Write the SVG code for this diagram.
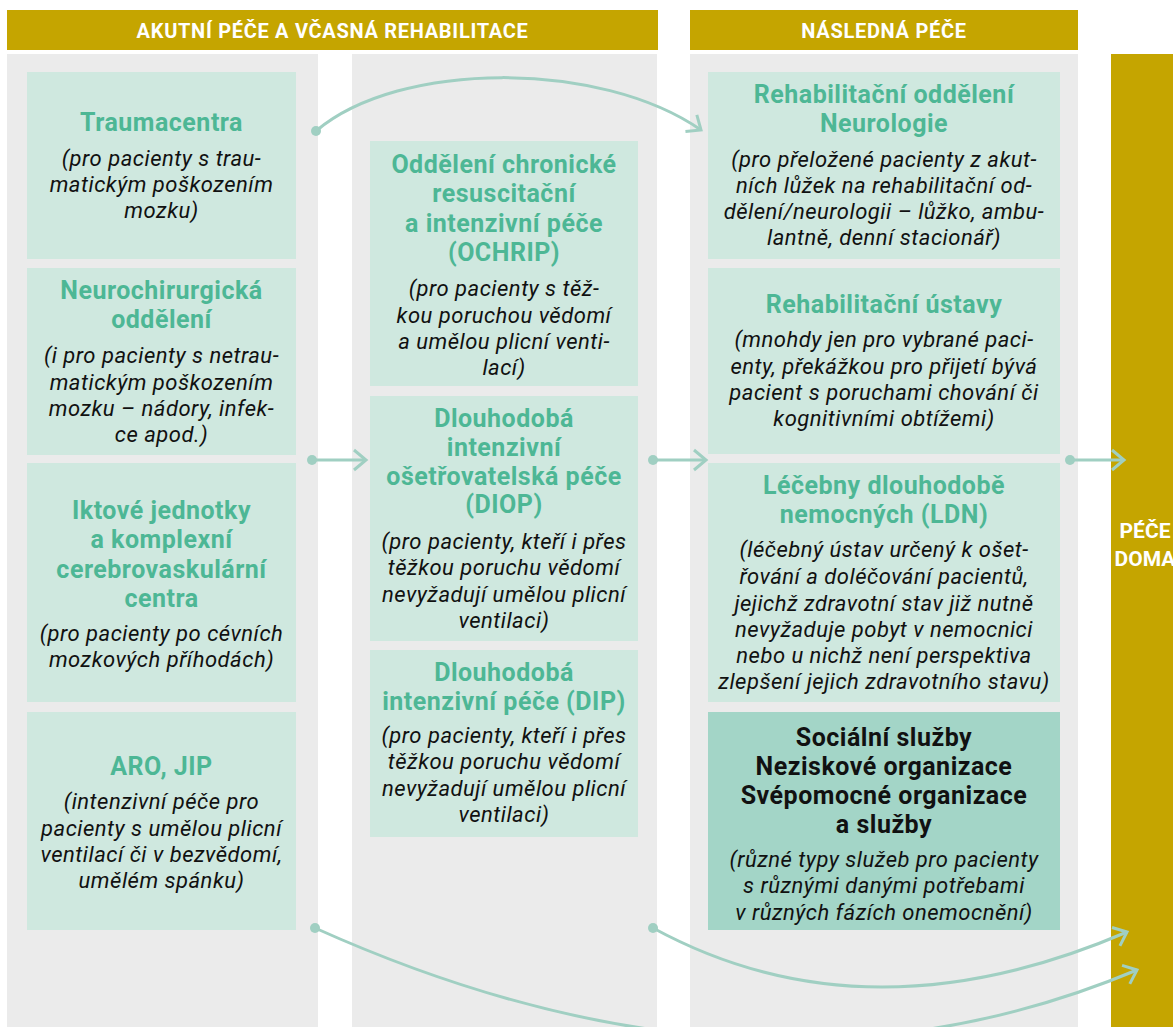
<svg xmlns="http://www.w3.org/2000/svg" width="1173" height="1027" viewBox="0 0 1173 1027">
<style>
.bg{fill:#ffffff}
.col{fill:#ebebeb}
.gold{fill:#c5a500}
.box{fill:#cfe8df}
.box2{fill:#a3d5c7}
.hdr{font-family:Roboto,"Liberation Sans",sans-serif;font-weight:700;font-size:20px;fill:#ffffff;text-anchor:middle;letter-spacing:0.7px}
.t{font-family:Roboto,"Liberation Sans",sans-serif;font-weight:700;font-size:25px;fill:#4db795;text-anchor:middle;letter-spacing:0.5px}
.tb{font-family:Roboto,"Liberation Sans",sans-serif;font-weight:700;font-size:25px;fill:#111111;text-anchor:middle;letter-spacing:0.5px}
.i{font-family:Roboto,"Liberation Sans",sans-serif;font-style:italic;font-size:22px;fill:#111111;text-anchor:middle;letter-spacing:0.5px}
.con{fill:none;stroke:#a0cfc2;stroke-width:3}
.dot{fill:#a0cfc2}
</style>
<defs>
<marker id="arr" markerUnits="userSpaceOnUse" viewBox="-14 -12 16 24" refX="0" refY="0" markerWidth="16" markerHeight="24" orient="auto" overflow="visible">
<path d="M-12,-10 L0,0 L-12,10" fill="none" stroke="#a0cfc2" stroke-width="3"/>
</marker>
</defs>
<rect class="bg" x="0" y="0" width="1173" height="1027"/>

<g id="header-acute">
<rect class="gold" x="7" y="10" width="651" height="40"/>
<text class="hdr" x="332.5" y="37.5">AKUTNÍ PÉČE A VČASNÁ REHABILITACE</text>
</g>
<g id="header-follow">
<rect class="gold" x="690" y="10" width="388" height="40"/>
<text class="hdr" x="884" y="37.5">NÁSLEDNÁ PÉČE</text>
</g>

<g id="columns">
<rect class="col" x="7" y="54" width="311" height="973"/>
<rect class="col" x="352" y="54" width="305" height="973"/>
<rect class="col" x="690" y="54" width="388" height="973"/>
</g>

<g id="home-care">
<rect class="gold" x="1111" y="54" width="62" height="973"/>
<text class="hdr" x="1145" y="538" style="font-size:21px;letter-spacing:0">PÉČE</text>
<text class="hdr" x="1145" y="566" style="font-size:21px;letter-spacing:0">DOMA</text>
</g>

<g id="traumacentra">
<rect class="box" x="27" y="72" width="269" height="187"/>
<text class="t" x="161.5" y="131">Traumacentra</text>
<text class="i" x="161.5" y="166">(pro pacienty s trau-</text>
<text class="i" x="161.5" y="192">matickým poškozením</text>
<text class="i" x="161.5" y="218">mozku)</text>
</g>

<g id="neurochirurgicka">
<rect class="box" x="27" y="268" width="269" height="187"/>
<text class="t" x="161.5" y="299">Neurochirurgická</text>
<text class="t" x="161.5" y="328">oddělení</text>
<text class="i" x="161.5" y="363">(i pro pacienty s netrau-</text>
<text class="i" x="161.5" y="390">matickým poškozením</text>
<text class="i" x="161.5" y="416">mozku – nádory, infek-</text>
<text class="i" x="161.5" y="442">ce apod.)</text>
</g>

<g id="iktove">
<rect class="box" x="27" y="463" width="269" height="239"/>
<text class="t" x="161.5" y="519">Iktové jednotky</text>
<text class="t" x="161.5" y="548">a komplexní</text>
<text class="t" x="161.5" y="578">cerebrovaskulární</text>
<text class="t" x="161.5" y="607">centra</text>
<text class="i" x="161.5" y="641">(pro pacienty po cévních</text>
<text class="i" x="161.5" y="667">mozkových příhodách)</text>
</g>

<g id="aro-jip">
<rect class="box" x="27" y="712" width="269" height="218"/>
<text class="t" x="161.5" y="775">ARO, JIP</text>
<text class="i" x="161.5" y="809">(intenzivní péče pro</text>
<text class="i" x="161.5" y="836">pacienty s umělou plicní</text>
<text class="i" x="161.5" y="862">ventilací či v bezvědomí,</text>
<text class="i" x="161.5" y="888">umělém spánku)</text>
</g>

<g id="ochrip">
<rect class="box" x="370" y="141" width="268" height="245"/>
<text class="t" x="504" y="173">Oddělení chronické</text>
<text class="t" x="504" y="202">resuscitační</text>
<text class="t" x="504" y="232">a intenzivní péče</text>
<text class="t" x="504" y="261">(OCHRIP)</text>
<text class="i" x="504" y="296">(pro pacienty s těž-</text>
<text class="i" x="504" y="323">kou poruchou vědomí</text>
<text class="i" x="504" y="349">a umělou plicní venti-</text>
<text class="i" x="504" y="375">lací)</text>
</g>

<g id="diop">
<rect class="box" x="370" y="396" width="268" height="245"/>
<text class="t" x="504" y="427">Dlouhodobá</text>
<text class="t" x="504" y="456">intenzivní</text>
<text class="t" x="504" y="485">ošetřovatelská péče</text>
<text class="t" x="504" y="513">(DIOP)</text>
<text class="i" x="504" y="549">(pro pacienty, kteří i přes</text>
<text class="i" x="504" y="575">těžkou poruchu vědomí</text>
<text class="i" x="504" y="602">nevyžadují umělou plicní</text>
<text class="i" x="504" y="628">ventilaci)</text>
</g>

<g id="dip">
<rect class="box" x="370" y="650" width="268" height="187"/>
<text class="t" x="504" y="681">Dlouhodobá</text>
<text class="t" x="504" y="710">intenzivní péče (DIP)</text>
<text class="i" x="504" y="743">(pro pacienty, kteří i přes</text>
<text class="i" x="504" y="769">těžkou poruchu vědomí</text>
<text class="i" x="504" y="796">nevyžadují umělou plicní</text>
<text class="i" x="504" y="822">ventilaci)</text>
</g>

<g id="rehab-neuro">
<rect class="box" x="708" y="72" width="352" height="187"/>
<text class="t" x="884" y="103">Rehabilitační oddělení</text>
<text class="t" x="884" y="132">Neurologie</text>
<text class="i" x="884" y="167">(pro přeložené pacienty z akut-</text>
<text class="i" x="884" y="193">ních lůžek na rehabilitační od-</text>
<text class="i" x="884" y="219">dělení/neurologii – lůžko, ambu-</text>
<text class="i" x="884" y="245">lantně, denní stacionář)</text>
</g>

<g id="rehab-ustavy">
<rect class="box" x="708" y="268" width="352" height="186"/>
<text class="t" x="884" y="313">Rehabilitační ústavy</text>
<text class="i" x="884" y="347">(mnohdy jen pro vybrané paci-</text>
<text class="i" x="884" y="374">enty, překážkou pro přijetí bývá</text>
<text class="i" x="884" y="400">pacient s poruchami chování či</text>
<text class="i" x="884" y="426">kognitivními obtížemi)</text>
</g>

<g id="ldn">
<rect class="box" x="708" y="463" width="352" height="239"/>
<text class="t" x="884" y="494">Léčebny dlouhodobě</text>
<text class="t" x="884" y="523">nemocných (LDN)</text>
<text class="i" x="884" y="557">(léčebný ústav určený k ošet-</text>
<text class="i" x="884" y="584">řování a doléčování pacientů,</text>
<text class="i" x="884" y="611">jejichž zdravotní stav již nutně</text>
<text class="i" x="884" y="637">nevyžaduje pobyt v nemocnici</text>
<text class="i" x="884" y="663">nebo u nichž není perspektiva</text>
<text class="i" x="884" y="689">zlepšení jejich zdravotního stavu)</text>
</g>

<g id="socialni">
<rect class="box2" x="708" y="712" width="352" height="218"/>
<text class="tb" x="884" y="746">Sociální služby</text>
<text class="tb" x="884" y="775">Neziskové organizace</text>
<text class="tb" x="884" y="804">Svépomocné organizace</text>
<text class="tb" x="884" y="833">a služby</text>
<text class="i" x="884" y="867">(různé typy služeb pro pacienty</text>
<text class="i" x="884" y="893">s různými danými potřebami</text>
<text class="i" x="884" y="920">v různých fázích onemocnění)</text>
</g>

<g id="connectors">
<path class="con" d="M316,131 C400,60 600,60 701,130" marker-end="url(#arr)"/>
<circle class="dot" cx="316" cy="131" r="5"/>
<path class="con" d="M312,460 L366,460" marker-end="url(#arr)"/>
<circle class="dot" cx="312" cy="460" r="5"/>
<path class="con" d="M653,460 L706,460" marker-end="url(#arr)"/>
<circle class="dot" cx="653" cy="460" r="5"/>
<path class="con" d="M1070,460 L1124,460" marker-end="url(#arr)"/>
<circle class="dot" cx="1070" cy="460" r="5"/>
<path class="con" d="M315,928 Q760,1128 1137,970" marker-end="url(#arr)"/>
<circle class="dot" cx="315" cy="928" r="5"/>
<path class="con" d="M653,928 Q866,1044 1127,932" marker-end="url(#arr)"/>
<circle class="dot" cx="653" cy="928" r="5"/>
</g>
</svg>
